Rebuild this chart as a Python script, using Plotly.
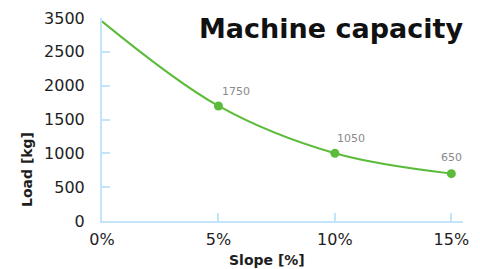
import plotly.graph_objects as go

# Data
slope = [0, 5, 10, 15]
load = [2950, 1700, 1000, 700]
marker_slope = [5, 10, 15]
marker_load = [1700, 1000, 700]
marker_labels = ["1750", "1050", "650"]
x_tickvals = [0, 5, 10, 15]
x_ticktext = ["0%", "5%", "10%", "15%"]
y_tickvals = [0, 500, 1000, 1500, 2000, 2500, 3000]
y_ticktext = ["0", "500", "1000", "1500", "2000", "2500", "3500"]

green = "#5cbb3a"
axis_col = "#c3e5fa"
fam = "DejaVu Sans"
dark = "#1e1e1e"

L, R, T, B = 102, 17, 18, 48
W, H = 480, 269
pw, ph = W - L - R, H - T - B


def px(xp):
    return (xp - L) / pw


def py(yp):
    return 1 - (yp - T) / ph


fig = go.Figure()
fig.add_trace(go.Scatter(x=slope, y=load, mode="lines",
                         line=dict(color=green, width=2, shape="spline", smoothing=1.0),
                         hoverinfo="skip"))
fig.add_trace(go.Scatter(x=marker_slope, y=marker_load, mode="markers",
                         marker=dict(color=green, size=9)))

shifts = [(18, 14), (16, 15), (0, 16)]
for xv, yv, t, (dx, dy) in zip(marker_slope, marker_load, marker_labels, shifts):
    fig.add_annotation(x=xv, y=yv, text=t, showarrow=False, xshift=dx, yshift=dy,
                       font=dict(size=11, color="#8a8a8a", family=fam))

fig.add_annotation(x=px(465), y=py(28), xref="paper", yref="paper",
                   xanchor="right", yanchor="middle", showarrow=False,
                   text="<b>Machine capacity</b>",
                   font=dict(size=27, color="#111111", family=fam))
fig.add_annotation(x=px(27), y=py(170), xref="paper", yref="paper",
                   xanchor="center", yanchor="middle", showarrow=False, textangle=-90,
                   text="<b>Load [kg]</b>", font=dict(size=14, color=dark, family=fam))
fig.add_annotation(x=px(267), y=py(260), xref="paper", yref="paper",
                   xanchor="center", yanchor="middle", showarrow=False,
                   text="<b>Slope [%]</b>", font=dict(size=14, color=dark, family=fam))

fig.update_layout(
    width=W, height=H,
    margin=dict(l=L, r=R, t=T, b=B),
    paper_bgcolor="white", plot_bgcolor="white",
    showlegend=False,
    font=dict(family=fam, color=dark),
)
fig.update_xaxes(range=[0, 15.5], tickvals=x_tickvals, ticktext=x_ticktext, automargin=False,
                 showgrid=False, zeroline=False, showline=True, linecolor=axis_col, linewidth=2,
                 ticks="inside", ticklen=8, tickwidth=2, tickcolor=axis_col,
                 ticklabelstandoff=3,
                 tickfont=dict(size=16, color=dark, family=fam))
fig.update_yaxes(range=[0, 3000], tickvals=y_tickvals, ticktext=y_ticktext, automargin=False,
                 showgrid=False, zeroline=False, showline=True, linecolor=axis_col, linewidth=2,
                 ticks="inside", ticklen=8, tickwidth=2, tickcolor=axis_col,
                 ticklabelstandoff=12,
                 tickfont=dict(size=16, color=dark, family=fam))

fig.write_html("out.html", config={"displayModeBar": False},
               post_script="document.body.style.margin='0px';")
